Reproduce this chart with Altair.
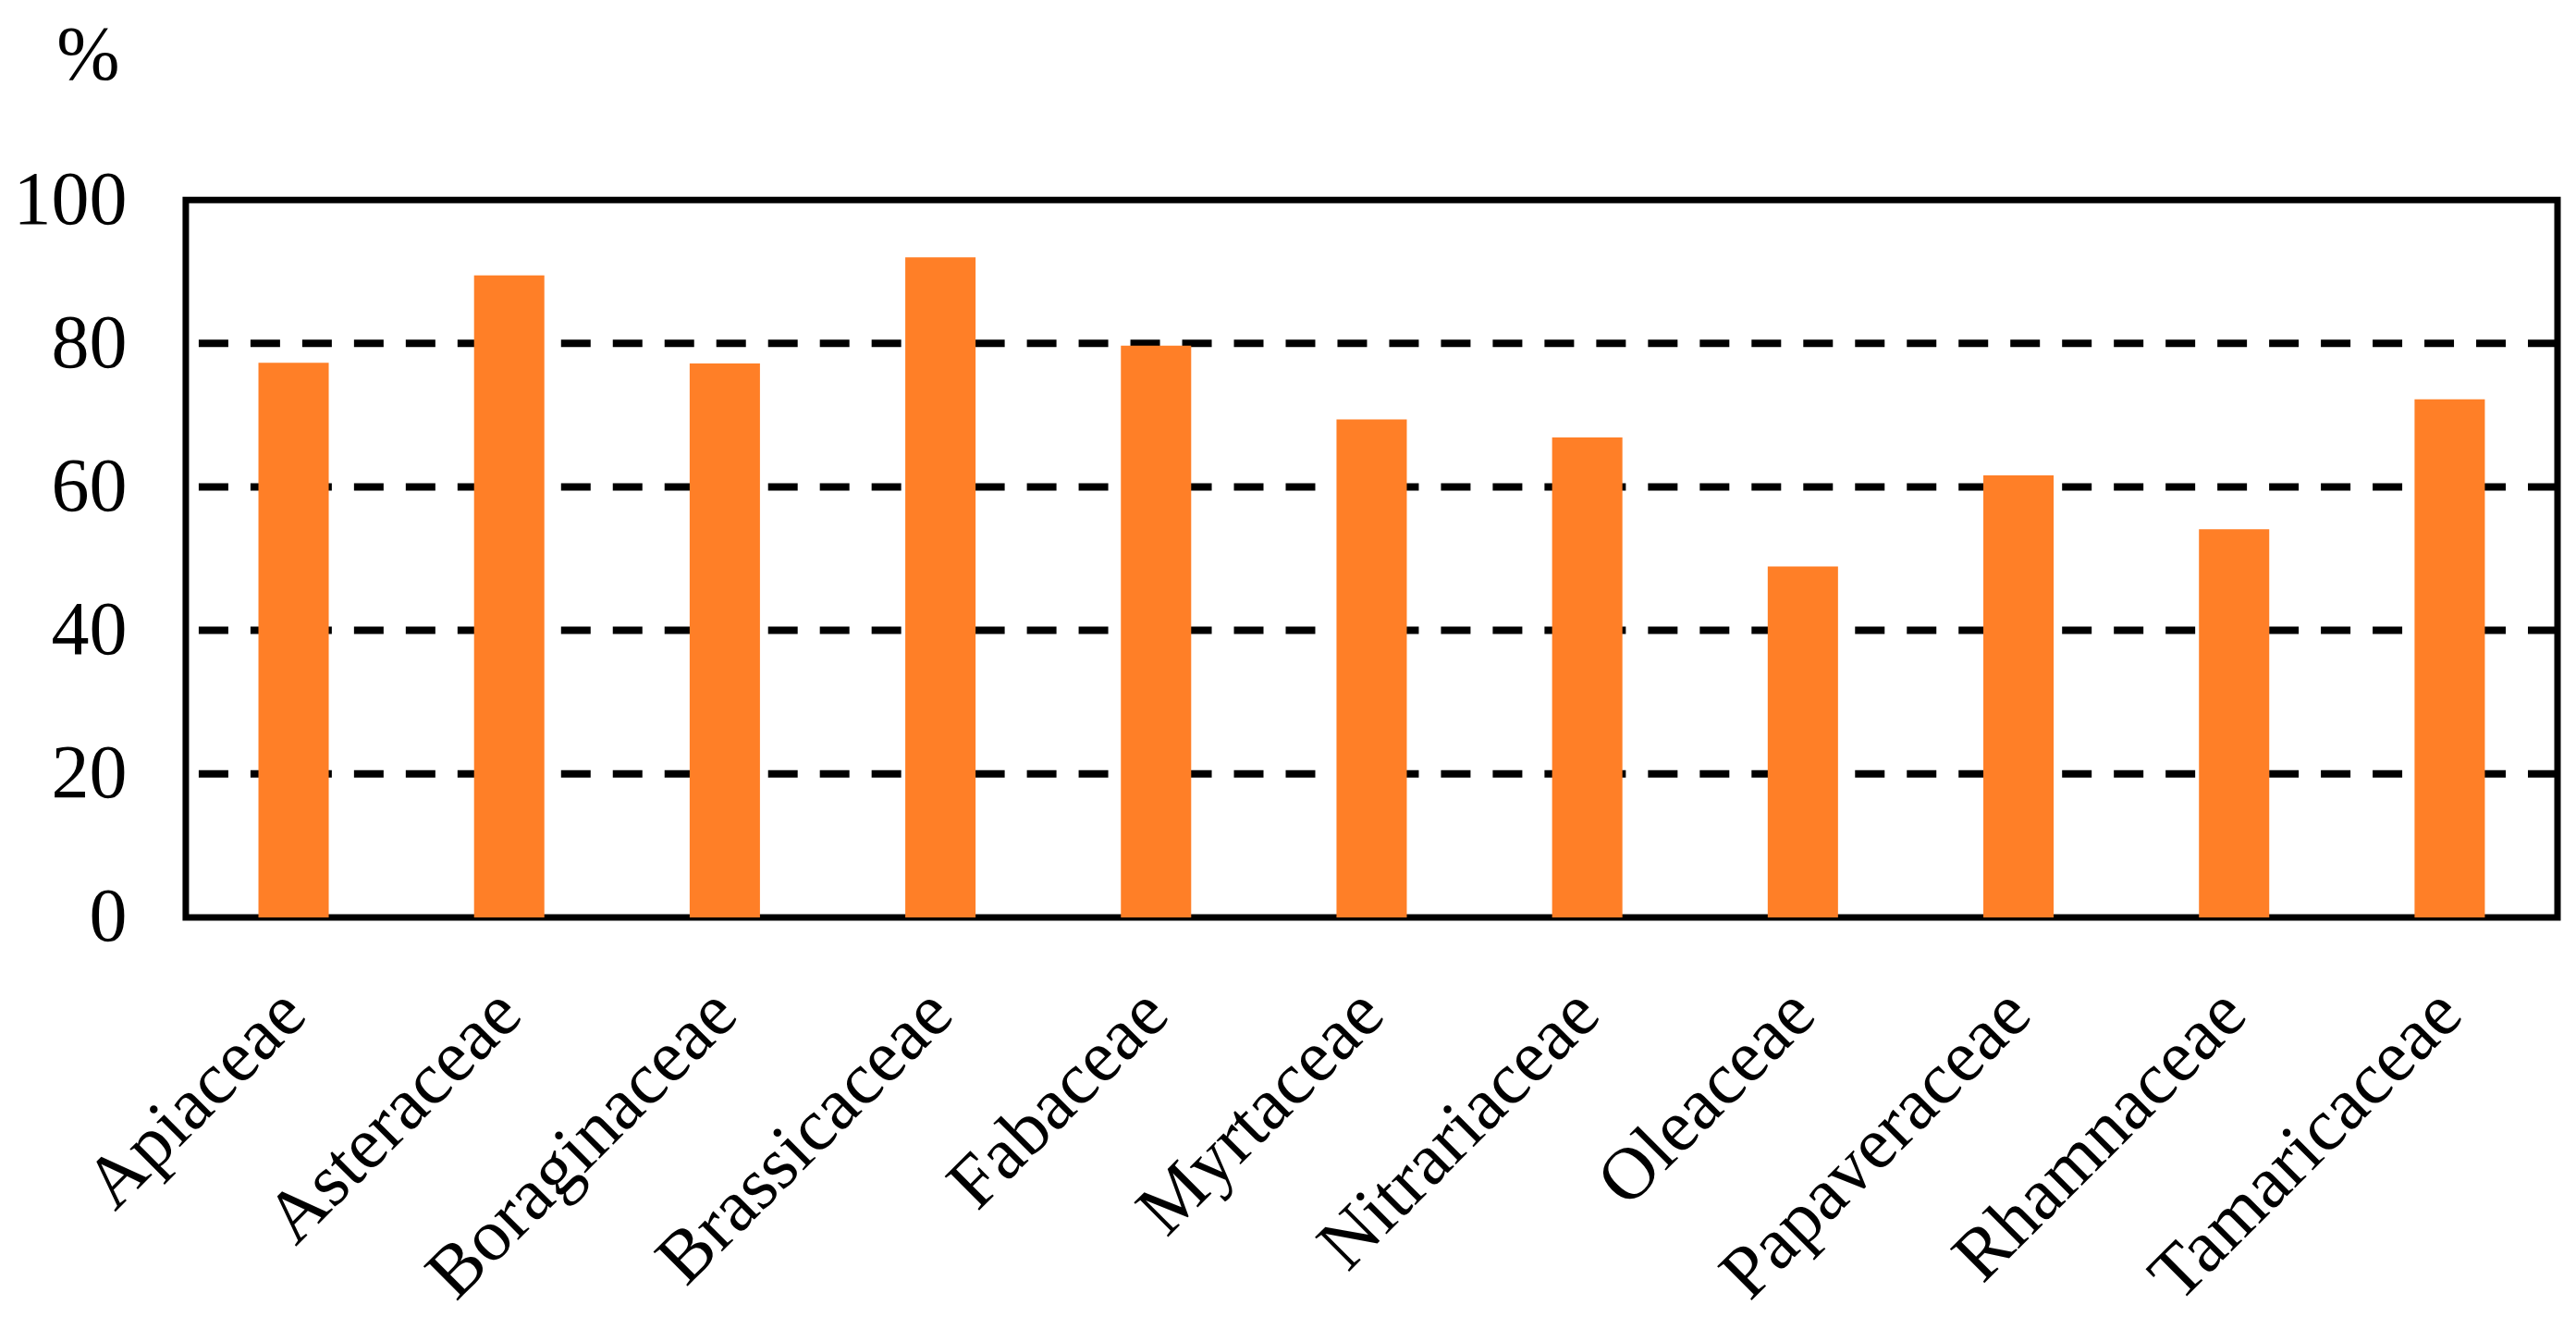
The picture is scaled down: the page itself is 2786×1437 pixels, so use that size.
import altair as alt
import pandas as pd

families = ["Apiaceae", "Asteraceae", "Boraginaceae", "Brassicaceae", "Fabaceae",
            "Myrtaceae", "Nitrariaceae", "Oleaceae", "Papaveraceae", "Rhamnaceae",
            "Tamaricaceae"]
percent = [77.3, 89.5, 77.2, 92.0, 79.7, 69.4, 66.9, 48.9, 61.6, 54.1, 72.2]
grid_levels = [20, 40, 60, 80]
y_ticks = [0, 20, 40, 60, 80, 100]

bars_df = pd.DataFrame({"family": families, "pct": percent})
grid_df = pd.DataFrame({"pct": grid_levels})

FONT = "Liberation Serif"
yscale = alt.Scale(domain=[0, 100], nice=False, zero=True)

grid = alt.Chart(grid_df).mark_rule(
    color="black", strokeWidth=8, strokeDash=[32, 24]
).encode(
    y=alt.Y("pct:Q", scale=yscale)
)

bars = alt.Chart(bars_df).mark_bar(color="#FF7F27").encode(
    x=alt.X("family:N", sort=families,
            scale=alt.Scale(paddingInner=0.674, paddingOuter=0.337),
            axis=alt.Axis(title=None, labelAngle=-45, labelAlign="right",
                          labelBaseline="middle", labelPadding=91, ticks=False,
                          tickSize=0, domain=False, labelFont=FONT,
                          labelFontSize=80, labelColor="black", labelLimit=0,
                          labelOverlap=False)),
    y=alt.Y("pct:Q", scale=yscale,
            axis=alt.Axis(title="%", values=y_ticks, grid=False, ticks=False,
                          tickSize=0, domain=False, labelFont=FONT,
                          labelFontSize=82, labelColor="black", labelPadding=64,
                          titleAngle=0, titleX=-106, titleY=-157,
                          titleAlign="center", titleBaseline="middle",
                          titleFont=FONT, titleFontSize=82,
                          titleFontWeight="normal", titleColor="black"))
)

chart = alt.layer(grid, bars).properties(
    width=2566, height=776,
    autosize=alt.AutoSizeParams(type="none"),
    padding={"left": 193, "top": 208, "right": 12, "bottom": 440},
    background="white",
).configure_view(stroke="black", strokeWidth=7)

chart.save("out.html", embed_options={"renderer": "svg", "actions": False})
